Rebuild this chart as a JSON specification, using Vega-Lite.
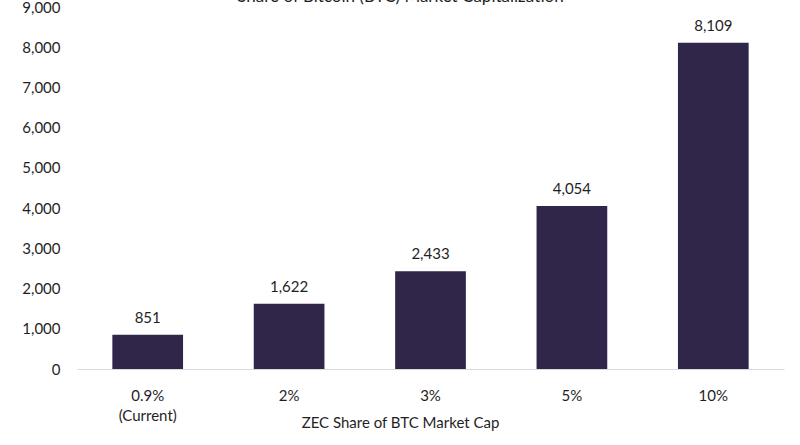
{
  "$schema": "https://vega.github.io/schema/vega-lite/v6.json",
  "autosize": "none",
  "padding": {"left": 77, "top": 7, "right": 16, "bottom": 76},
  "width": 707,
  "height": 362,
  "background": "white",
  "title": {
    "text": "Share of Bitcoin (BTC) Market Capitalization",
    "font": "Lato",
    "fontSize": 17,
    "fontWeight": "normal",
    "color": "#1f1f1f",
    "anchor": "middle",
    "baseline": "alphabetic",
    "offset": 0,
    "dy": 19,
    "dx": -30
  },
  "config": {
    "view": {"stroke": null},
    "font": "Lato"
  },
  "data": {
    "values": [
      {"share": "0.9%", "price": 851},
      {"share": "2%", "price": 1622},
      {"share": "3%", "price": 2433},
      {"share": "5%", "price": 4054},
      {"share": "10%", "price": 8109}
    ]
  },
  "encoding": {
    "x": {
      "field": "share",
      "type": "nominal",
      "sort": null,
      "scale": {"paddingInner": 0.5, "paddingOuter": 0.25},
      "axis": {
        "title": "ZEC Share of BTC Market Cap",
        "titleFont": "Lato",
        "titleFontSize": 15,
        "titleFontWeight": "normal",
        "titleColor": "#1f1f1f",
        "titleX": 323,
        "titleY": 53,
        "titleBaseline": "middle",
        "labelAngle": 0,
        "labelFont": "Lato",
        "labelFontSize": 15,
        "labelColor": "#1f1f1f",
        "labelPadding": 26,
        "labelLineHeight": 20,
        "labelBaseline": "middle",
        "labelExpr": "datum.value == '0.9%' ? ['0.9%', '(Current)'] : datum.value",
        "ticks": false,
        "domainColor": "#d9d9d9",
        "domainWidth": 1
      }
    },
    "y": {
      "field": "price",
      "type": "quantitative",
      "scale": {"domain": [0, 9000], "nice": false},
      "axis": {
        "title": null,
        "values": [0, 1000, 2000, 3000, 4000, 5000, 6000, 7000, 8000, 9000],
        "format": ",.0f",
        "labelFont": "Lato",
        "labelFontSize": 15,
        "labelColor": "#1f1f1f",
        "labelPadding": 17,
        "ticks": false,
        "domain": false,
        "grid": false
      }
    }
  },
  "layer": [
    {"mark": {"type": "bar", "color": "#2f2649"}},
    {
      "mark": {
        "type": "text",
        "baseline": "alphabetic",
        "dy": -12,
        "font": "Lato",
        "fontSize": 15,
        "color": "#1f1f1f"
      },
      "encoding": {
        "text": {"field": "price", "type": "quantitative", "format": ",.0f"}
      }
    }
  ]
}
